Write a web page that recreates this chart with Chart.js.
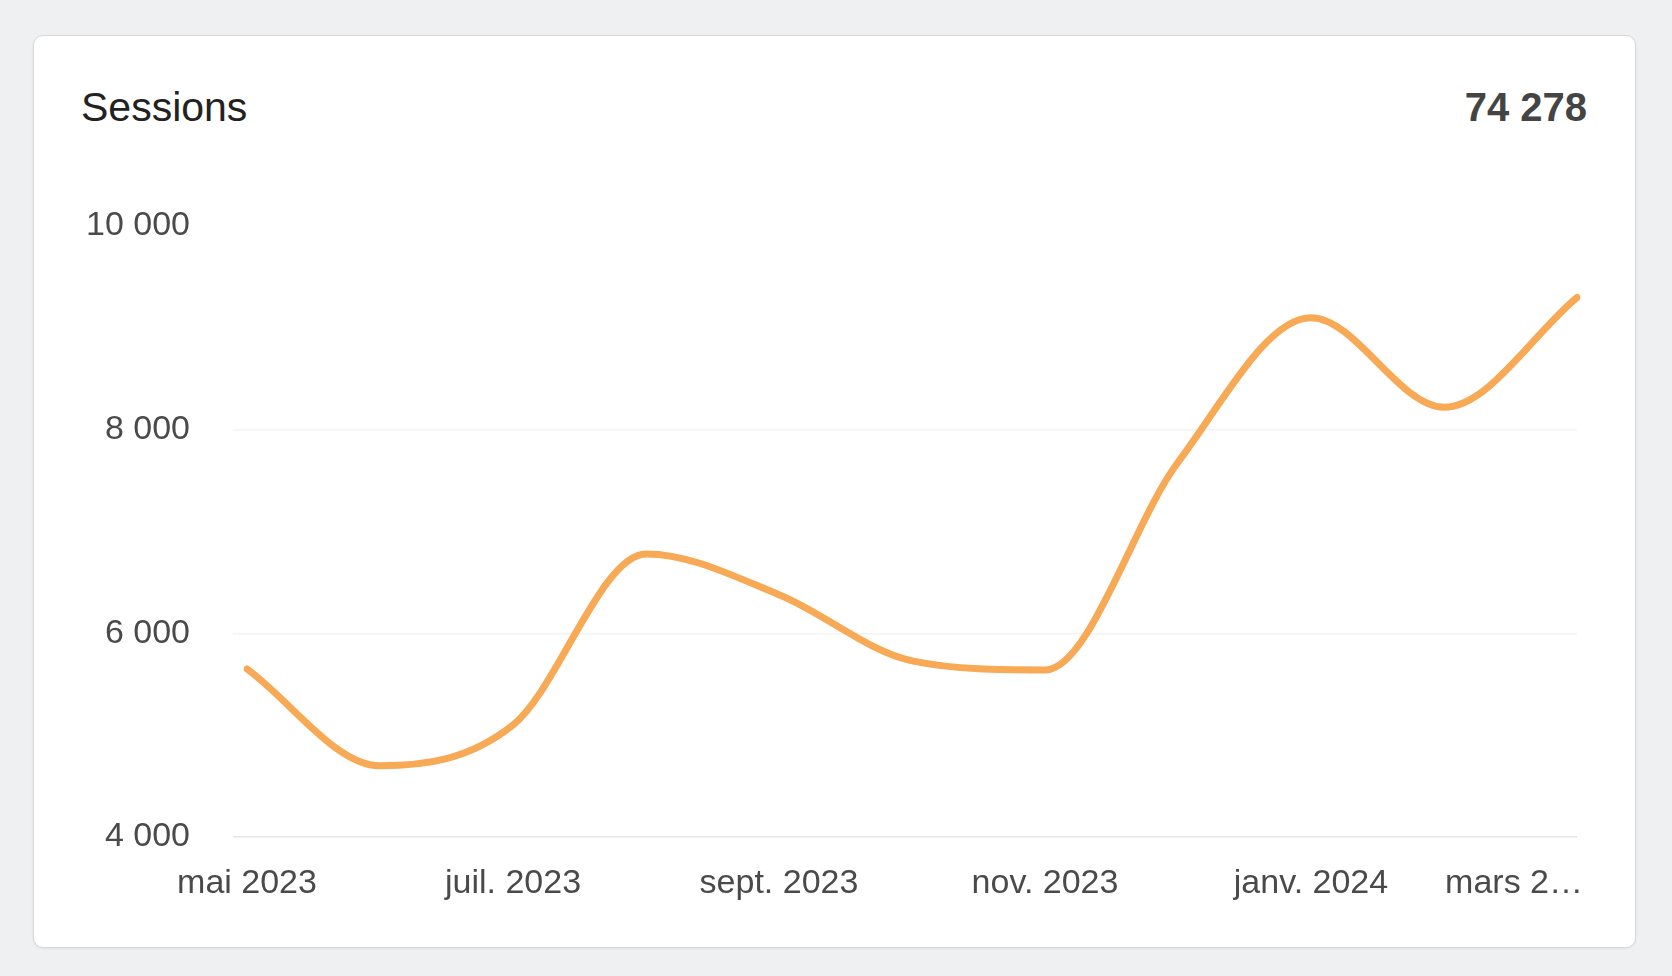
<!DOCTYPE html>
<html lang="fr">
<head>
<meta charset="utf-8">
<title>Sessions</title>
<script src="https://cdn.jsdelivr.net/npm/chart.js@4"></script>
<style>
  html, body {
    margin: 0;
    padding: 0;
    width: 1672px;
    height: 976px;
    background: #eef0f1;
    font-family: "Liberation Sans", Arial, sans-serif;
    overflow: hidden;
  }
  .card {
    position: absolute;
    left: 33px;
    top: 35px;
    width: 1601px;
    height: 911px;
    background: #ffffff;
    border: 1px solid #d6d8da;
    border-radius: 10px;
    box-shadow: 0 1px 3px rgba(0, 0, 0, 0.06);
  }
  .title {
    position: absolute;
    left: 47px;
    top: 47px;
    font-size: 41px;
    line-height: 48px;
    color: #222222;
  }
  .total {
    position: absolute;
    right: 48px;
    top: 47px;
    font-size: 40px;
    line-height: 48px;
    font-weight: bold;
    color: #444444;
  }
  .chart-box {
    position: absolute;
    left: 0;
    top: 125px;
    width: 1601px;
    height: 780px;
  }
</style>
</head>
<body>
<div class="card">
  <div class="title">Sessions</div>
  <div class="total">74 278</div>
  <div class="chart-box"><canvas id="sessionsChart"></canvas></div>
</div>

<script>
// Months shown on the x axis (mai 2023 -> mars 2024)
const months = [
  "mai 2023", "juin 2023", "juil. 2023", "août 2023", "sept. 2023", "oct. 2023",
  "nov. 2023", "déc. 2023", "janv. 2024", "févr. 2024", "mars 2024"
];

// Sessions per month
const sessions = [5650, 4700, 5100, 6780, 6380, 5730, 5640, 7680, 9100, 8220, 9298];

// Y axis ticks
const yTicks = [4000, 6000, 8000, 10000];

const textColor = "#4a4a4a";
const fontFamily = "'Liberation Sans', Arial, sans-serif";

// French-style number format: 10 000
function formatNumber(n) {
  return String(n).replace(/\B(?=(\d{3})+(?!\d))/g, " ");
}

// Cut a label with an ellipsis so it fits in maxWidth
function fitText(ctx, text, maxWidth) {
  if (ctx.measureText(text).width <= maxWidth) return text;
  let t = text;
  while (t.length > 1 && ctx.measureText(t + "…").width > maxWidth) {
    t = t.slice(0, -1);
  }
  return t + "…";
}

// Draw every second month under the axis, last one right-aligned and shortened
const monthLabels = {
  id: "monthLabels",
  afterDraw(chart) {
    const ctx = chart.ctx;
    const xScale = chart.scales.x;
    const y = chart.chartArea.bottom + 47;
    ctx.save();
    ctx.font = "34px " + fontFamily;
    ctx.fillStyle = textColor;
    ctx.textBaseline = "middle";
    months.forEach((label, i) => {
      const x = xScale.getPixelForValue(i);
      if (i === months.length - 1) {
        ctx.textAlign = "right";
        ctx.fillText(fitText(ctx, label, 140), x + 6, y);
      } else if (i % 2 === 0) {
        ctx.textAlign = "center";
        ctx.fillText(label, x, y);
      }
    });
    ctx.restore();
  }
};

new Chart(document.getElementById("sessionsChart"), {
  type: "line",
  data: {
    labels: months,
    datasets: [{
      label: "Sessions",
      data: sessions,
      borderColor: "#f7a955",
      borderWidth: 7,
      pointRadius: 0,
      pointHoverRadius: 0,
      fill: false,
      cubicInterpolationMode: "monotone",
      borderCapStyle: "round"
    }]
  },
  options: {
    responsive: true,
    maintainAspectRatio: false,
    animation: false,
    layout: {
      padding: { left: 0, right: 58, top: 65, bottom: 104 }
    },
    plugins: {
      legend: { display: false },
      tooltip: { enabled: false }
    },
    scales: {
      x: {
        display: false
      },
      y: {
        min: yTicks[0],
        max: yTicks[yTicks.length - 1],
        afterFit: (scale) => { scale.width = 213; },
        afterBuildTicks: (scale) => {
          scale.ticks = yTicks.map((v) => ({ value: v }));
        },
        border: { display: false },
        grid: {
          tickLength: 14,
          lineWidth: 1.5,
          color: (c) => {
            const v = c.tick && c.tick.value;
            if (v === 4000) return "#e6e6e6";
            if (v === 10000) return "rgba(0,0,0,0)";
            return "#f3f3f3";
          }
        },
        ticks: {
          padding: 43,
          color: textColor,
          font: { size: 34, family: fontFamily },
          callback: (v) => formatNumber(v)
        }
      }
    }
  },
  plugins: [monthLabels]
});
</script>
</body>
</html>
